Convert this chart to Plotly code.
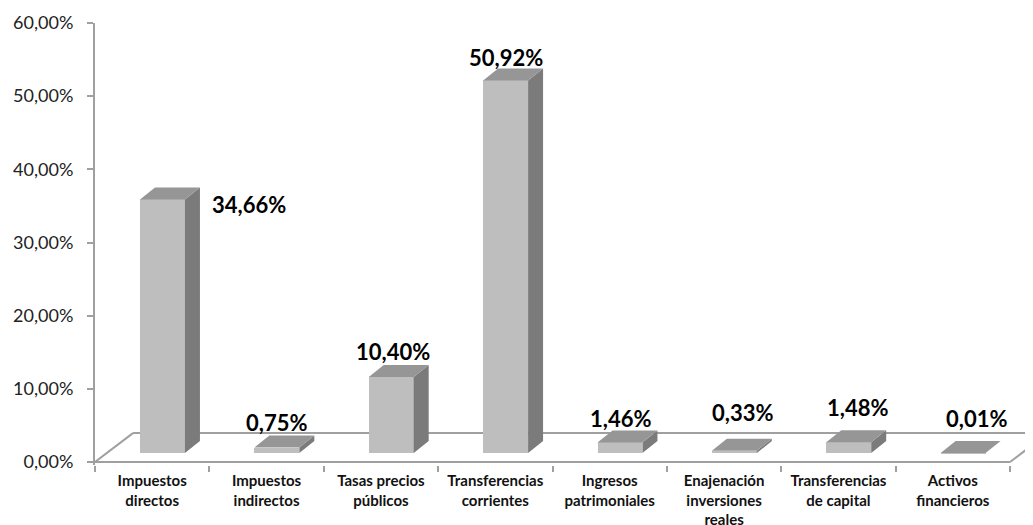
import plotly.graph_objects as go

# ---------------- data ----------------
categories = [
    "Impuestos<br>directos",
    "Impuestos<br>indirectos",
    "Tasas precios<br>públicos",
    "Transferencias<br>corrientes",
    "Ingresos<br>patrimoniales",
    "Enajenación<br>inversiones<br>reales",
    "Transferencias<br>de capital",
    "Activos<br>financieros",
]
values = [0.3466, 0.0075, 0.1040, 0.5092, 0.0146, 0.0033, 0.0148, 0.0001]
value_labels = ["34,66%", "0,75%", "10,40%", "50,92%", "1,46%", "0,33%", "1,48%", "0,01%"]
y_tick_values = [0.0, 0.1, 0.2, 0.3, 0.4, 0.5, 0.6]
y_tick_labels = ["0,00%", "10,00%", "20,00%", "30,00%", "40,00%", "50,00%", "60,00%"]

# ---------------- style (pseudo-3D geometry) ----------------
BAR_OFF = 0.09      # front face centre offset from category centre (x units)
BAR_W = 0.393       # front face width (x units)
BASE = 0.0123       # bars stand slightly behind the front floor edge
DX, DY = 0.131, 0.0164   # bar depth projection
FX, FY = 0.332, 0.0396   # floor depth projection
label_shifts = [(87, -5), (0, 25), (2, 25), (0, 23), (1, 24), (8, 38), (9, 35), (13, 35)]

FRONT = "#BEBEBE"
TOP = "#969696"
SIDE = "#7B7B7B"
AXIS = "#A0A0A0"

n = len(values)
xs = [i + BAR_OFF for i in range(n)]

fig = go.Figure()

# front faces
fig.add_trace(go.Bar(
    x=xs, y=values, base=BASE, width=BAR_W,
    marker=dict(color=FRONT, line=dict(width=0)),
    hoverinfo="skip", showlegend=False,
))

# side and top faces computed from the values
side_x, side_y, top_x, top_y = [], [], [], []
for x, v in zip(xs, values):
    x0, x1 = x - BAR_W / 2, x + BAR_W / 2
    top = BASE + v
    side_x += [x1, x1, x1 + DX, x1 + DX, x1, None]
    side_y += [BASE, top, top + DY, BASE + DY, BASE, None]
    top_x += [x0, x1, x1 + DX, x0 + DX, x0, None]
    top_y += [top, top, top + DY, top + DY, top, None]

fig.add_trace(go.Scatter(x=side_x, y=side_y, mode="lines", fill="toself",
                         fillcolor=SIDE, line=dict(width=0, color=SIDE),
                         hoverinfo="skip", showlegend=False))
fig.add_trace(go.Scatter(x=top_x, y=top_y, mode="lines", fill="toself",
                         fillcolor=TOP, line=dict(width=0, color=TOP),
                         hoverinfo="skip", showlegend=False))

# floor outline
left, right = -0.5, n - 0.5
floor_lines = [
    (left, 0, right, 0),
    (left + FX, FY, right + FX, FY),
    (left, 0, left + FX, FY),
    (right, 0, right + FX, FY),
]
for x0, y0, x1, y1 in floor_lines:
    fig.add_shape(type="line", x0=x0, y0=y0, x1=x1, y1=y1, xref="x", yref="y",
                  line=dict(color=AXIS, width=2), layer="below")

# data labels
for x, v, t, (sx, sy) in zip(xs, values, value_labels, label_shifts):
    fig.add_annotation(x=x, y=BASE + v, text=t, showarrow=False,
                       xanchor="center", yanchor="middle", xshift=sx, yshift=sy,
                       font=dict(family="Lato", size=22, color="black", weight="bold"))

# the page body has an 8px margin: size the figure so it fits the 1033x525 window
fig.update_layout(
    width=1025, height=517,
    margin=dict(l=87, r=0, t=15, b=60),
    paper_bgcolor="white", plot_bgcolor="white",
    showlegend=False,
    bargap=0,
)
fig.update_xaxes(
    type="linear", range=[-0.5, 7.701], automargin=False,
    tickvals=list(range(n)), ticktext=categories,
    ticks="", showgrid=False, zeroline=False, showline=False,
    ticklabelstandoff=5,
    tickfont=dict(family="Lato", size=15, color="#111111", weight="bold"),
    minor=dict(tickvals=[i - 0.5 for i in range(n + 1)], ticks="outside",
               ticklen=6, tickwidth=2, tickcolor=AXIS, showgrid=False),
)
fig.update_yaxes(
    range=[-0.004, 0.6], automargin=False,
    tickvals=y_tick_values, ticktext=y_tick_labels,
    ticks="outside", ticklen=6, tickwidth=2, tickcolor=AXIS,
    ticklabelstandoff=10,
    showgrid=False, zeroline=False, showline=True, linecolor=AXIS, linewidth=2,
    tickfont=dict(family="Lato", size=18, color="#222222"),
)

fig.write_html("out.html")
